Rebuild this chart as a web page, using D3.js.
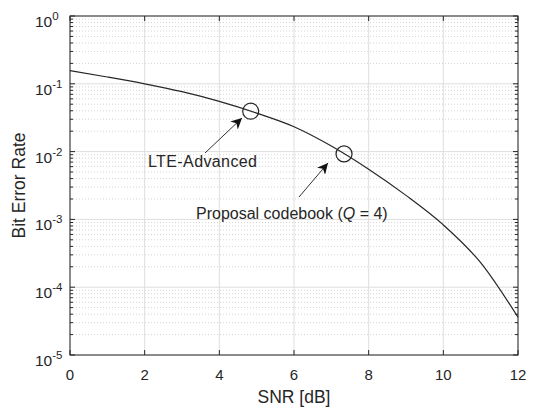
<!DOCTYPE html>
<html>
<head>
<meta charset="utf-8">
<script src="https://cdn.jsdelivr.net/npm/d3@7"></script>
<style>
  body { margin: 0; background: #fff; }
  text { font-family: "Liberation Sans", Arial, sans-serif; fill: #262626; }
</style>
</head>
<body>
<svg width="533" height="408"></svg>
<script>
var svg = d3.select('svg');

// data
var snr = [0, 1, 2, 3, 4, 5, 6, 7, 8, 9, 10, 11, 12];
var ber = [0.156, 0.126, 0.100, 0.0765, 0.055, 0.037, 0.0233, 0.0121, 0.0055, 0.00226, 0.00083, 0.00023, 0.000036];
var xTicks = [0, 2, 4, 6, 8, 10, 12];
var yExps = [0, -1, -2, -3, -4, -5];

// marked points and their notes
var markSnr = [4.84, 7.34];
var markLabels = ['LTE-Advanced', 'Proposal codebook'];

// plot box (don't call it "top", that's window.top)
var pLeft = 70, pRight = 518, pTop = 16, pBottom = 355;

var x = d3.scaleLinear().domain([0, 12]).range([pLeft, pRight]);
var y = d3.scaleLog().domain([1e-5, 1]).range([pBottom, pTop]);

// interpolate ber on the log scale to place the circles on the curve
function berAt(s){
    var i = Math.min(Math.floor(s), snr.length - 2);
    var t = s - snr[i];
    var l = Math.log10(ber[i]) * (1 - t) + Math.log10(ber[i + 1]) * t;
    return Math.pow(10, l);
}

var grid = svg.append('g');

// minor grid (dotted) for every decade
yExps.forEach(function(e){
    if(e == -5) return;
    for(var k = 2; k <= 9; k++){
        var v = k * Math.pow(10, e - 1);
        grid.append('line')
            .attr('x1', pLeft).attr('x2', pRight)
            .attr('y1', y(v)).attr('y2', y(v))
            .attr('stroke', '#d4d4d4')
            .attr('stroke-dasharray', '1,2');
    }
});

// major grid
yExps.forEach(function(e){
    grid.append('line')
        .attr('x1', pLeft).attr('x2', pRight)
        .attr('y1', y(Math.pow(10, e))).attr('y2', y(Math.pow(10, e)))
        .attr('stroke', '#dedede');
});
xTicks.forEach(function(t){
    grid.append('line')
        .attr('x1', x(t)).attr('x2', x(t))
        .attr('y1', pTop).attr('y2', pBottom)
        .attr('stroke', '#dedede');
});

// axes box
svg.append('rect')
    .attr('x', pLeft).attr('y', pTop)
    .attr('width', pRight - pLeft).attr('height', pBottom - pTop)
    .attr('fill', 'none').attr('stroke', '#262626').attr('stroke-width', 1);

// ticks inside the box
var ticks = svg.append('g').attr('stroke', '#262626');
xTicks.forEach(function(t){
    ticks.append('line').attr('x1', x(t)).attr('x2', x(t)).attr('y1', pBottom).attr('y2', pBottom - 5);
    ticks.append('line').attr('x1', x(t)).attr('x2', x(t)).attr('y1', pTop).attr('y2', pTop + 5);
});
yExps.forEach(function(e){
    var yy = y(Math.pow(10, e));
    ticks.append('line').attr('x1', pLeft).attr('x2', pLeft + 5).attr('y1', yy).attr('y2', yy);
    ticks.append('line').attr('x1', pRight).attr('x2', pRight - 5).attr('y1', yy).attr('y2', yy);
    if(e == -5) return;
    for(var k = 2; k <= 9; k++){
        var m = y(k * Math.pow(10, e - 1));
        ticks.append('line').attr('x1', pLeft).attr('x2', pLeft + 3).attr('y1', m).attr('y2', m);
        ticks.append('line').attr('x1', pRight).attr('x2', pRight - 3).attr('y1', m).attr('y2', m);
    }
});

// x tick labels
svg.selectAll('.xl')
    .data(xTicks)
    .enter()
    .append('text')
    .attr('x', function(d){ return x(d); })
    .attr('y', pBottom + 25)
    .attr('text-anchor', 'middle')
    .attr('font-size', 15)
    .text(function(d){ return d; });

// y tick labels: 10 with exponent
var yl = svg.selectAll('.yl')
    .data(yExps)
    .enter()
    .append('text')
    .attr('x', 35)
    .attr('y', function(d){ return y(Math.pow(10, d)) + 11; })
    .attr('font-size', 15.5);
yl.append('tspan').text('10');
yl.append('tspan')
    .attr('dy', -7)
    .attr('font-size', 11.5)
    .text(function(d){ return d == 0 ? '0' : '-' + (-d); });

// axis titles
svg.append('text')
    .attr('x', (pLeft + pRight) / 2)
    .attr('y', 403)
    .attr('text-anchor', 'middle')
    .attr('font-size', 17.5)
    .text('SNR [dB]');
svg.append('text')
    .attr('transform', 'translate(25,' + ((pTop + pBottom) / 2) + ') rotate(-90)')
    .attr('text-anchor', 'middle')
    .attr('font-size', 17.5)
    .text('Bit Error Rate');

// the curve
var line = d3.line()
    .x(function(d, i){ return x(snr[i]); })
    .y(function(d){ return y(d); })
    .curve(d3.curveMonotoneX);
svg.append('path')
    .datum(ber)
    .attr('d', line)
    .attr('fill', 'none')
    .attr('stroke', '#262626')
    .attr('stroke-width', 1.2);

// circles on the curve
svg.selectAll('.mark')
    .data(markSnr)
    .enter()
    .append('circle')
    .attr('cx', function(d){ return x(d); })
    .attr('cy', function(d){ return y(berAt(d)); })
    .attr('r', 8)
    .attr('fill', 'none')
    .attr('stroke', '#262626')
    .attr('stroke-width', 1.2);

// arrows
var defs = svg.append('defs');
defs.append('marker')
    .attr('id', 'head')
    .attr('viewBox', '0 0 10 10')
    .attr('refX', 10).attr('refY', 5)
    .attr('markerWidth', 11).attr('markerHeight', 11)
    .attr('markerUnits', 'userSpaceOnUse')
    .attr('orient', 'auto')
    .append('path')
    .attr('d', 'M0,0 L10,5 L0,10 L3,5 Z')
    .attr('fill', '#111');

var arrows = [
    {x1: 205, y1: 153, x2: 242, y2: 118},
    {x1: 299, y1: 197, x2: 328, y2: 163}
];
svg.selectAll('.arr')
    .data(arrows)
    .enter()
    .append('line')
    .attr('x1', function(d){ return d.x1; })
    .attr('y1', function(d){ return d.y1; })
    .attr('x2', function(d){ return d.x2; })
    .attr('y2', function(d){ return d.y2; })
    .attr('stroke', '#333')
    .attr('stroke-width', 1)
    .attr('marker-end', 'url(#head)');

svg.append('text')
    .attr('x', 148).attr('y', 167)
    .attr('font-size', 16)
    .attr('textLength', 109)
    .text(markLabels[0]);

var pt = svg.append('text')
    .attr('x', 196).attr('y', 219)
    .attr('font-size', 16);
pt.append('tspan').text(markLabels[1] + ' (');
pt.append('tspan').attr('font-style', 'italic').text('Q');
pt.append('tspan').text(' = 4)');
</script>
</body>
</html>
